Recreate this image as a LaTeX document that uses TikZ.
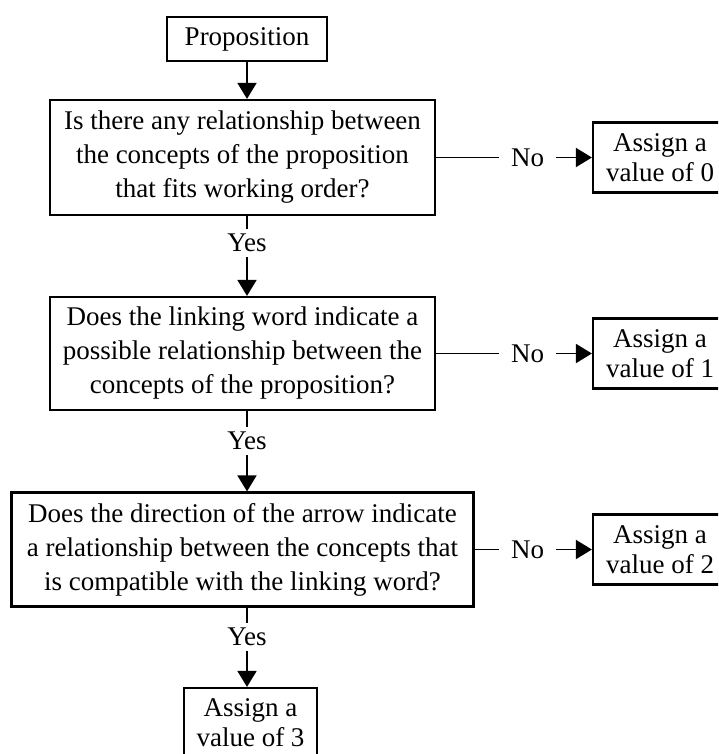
\documentclass[tikz,border=0pt]{standalone}
\usepackage{fontspec}
\setmainfont{Liberation Serif}
\usetikzlibrary{arrows.meta,calc}
\begin{document}
\begin{tikzpicture}[x=1pt,y=-1pt,
  font=\fontsize{27}{34}\selectfont,
  box/.style={draw,line width=2.2pt,align=center,inner sep=0pt},
  abox/.style={box,font=\fontsize{27}{30}\selectfont,minimum width=134pt,minimum height=70pt},
  lbl/.style={inner xsep=12pt,inner ysep=5pt},
  conn/.style={line width=1.8pt},
  arr/.style={line width=1.8pt,-{Triangle[width=19pt,length=16pt]}}]
\useasboundingbox (0,0) rectangle (718,754);
\clip (0,0) rectangle (718,754);
\node[box,minimum width=160pt,minimum height=44pt] (prop) at (247,39) {Proposition};
\node[box,minimum width=385pt,minimum height=115pt] (b1) at (242.5,157.5)
  {Is there any relationship between\\the concepts of the proposition\\that fits working order?};
\node[box,minimum width=385pt,minimum height=113pt] (b2) at (242.5,353.5)
  {Does the linking word indicate a\\possible relationship between the\\concepts of the proposition?};
\node[box,minimum width=462pt,minimum height=114pt] (b3) at (242.5,549.5)
  {Does the direction of the arrow indicate\\a relationship between the concepts that\\is compatible with the linking word?};
\node[abox] (a0) at (660,157.5) {Assign a\\value of 0};
\node[abox] (a1) at (660,353.5) {Assign a\\value of 1};
\node[abox] (a2) at (660,549.5) {Assign a\\value of 2};
\node[abox,minimum width=133pt] (a3) at (250.5,723) {Assign a\\value of 3};
\node[lbl] (n0) at (527.5,157.5) {No};
\node[lbl] (n1) at (527.5,353.5) {No};
\node[lbl] (n2) at (527.5,549.5) {No};
\node[lbl] (y1) at (247,243) {Yes};
\node[lbl] (y2) at (247,441) {Yes};
\node[lbl] (y3) at (247,637) {Yes};
\draw[arr] (prop.south) -- (prop.south |- b1.north);
\draw[conn] (y1.north |- b1.south) -- (y1.north);
\draw[arr] (y1.south) -- (y1.south |- b2.north);
\draw[conn] (y2.north |- b2.south) -- (y2.north);
\draw[arr] (y2.south) -- (y2.south |- b3.north);
\draw[conn] (y3.north |- b3.south) -- (y3.north);
\draw[arr] (y3.south) -- (y3.south |- a3.north);
\draw[conn] (b1.east) -- (n0.west);
\draw[arr] (n0.east) -- (a0.west);
\draw[conn] (b2.east) -- (n1.west);
\draw[arr] (n1.east) -- (a1.west);
\draw[conn] (b3.east) -- (n2.west);
\draw[arr] (n2.east) -- (a2.west);
\end{tikzpicture}
\end{document}
